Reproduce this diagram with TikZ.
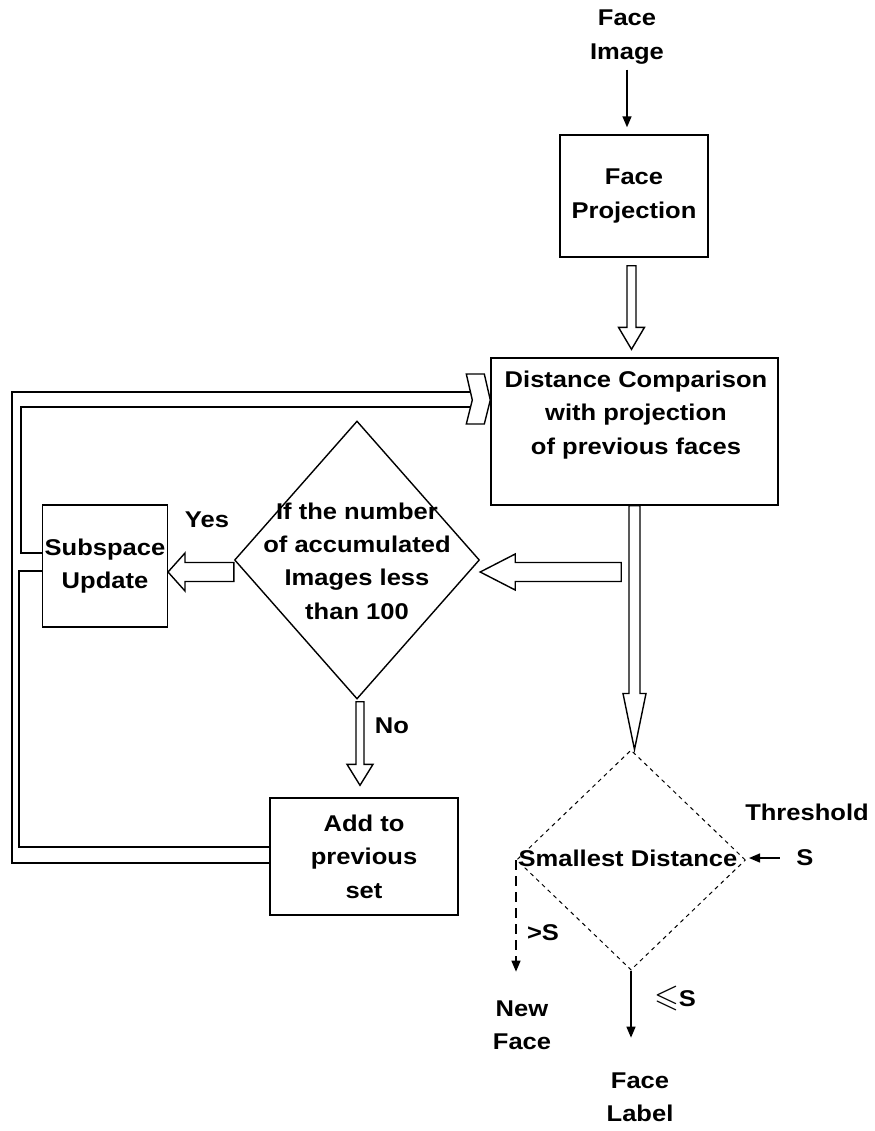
\documentclass[tikz,border=0pt]{standalone}
\usepackage{amssymb}
\usepackage{fontspec}
\setmainfont{Liberation Sans}[FakeStretch=1.12]
\usetikzlibrary{arrows.meta}
\usetikzlibrary{calc}
\usetikzlibrary{shapes.geometric}

% hollow block arrows: start, tip, half shaft, half head, head length
\newcommand{\downblock}[5]{%
  \draw let \p1=#1, \p2=#2 in (\x1-#3,\y1) -- (\x1-#3,\y2+#5) -- (\x1-#4,\y2+#5) -- (\x1,\y2)
    -- (\x1+#4,\y2+#5) -- (\x1+#3,\y2+#5) -- (\x1+#3,\y1) -- cycle;}
\newcommand{\leftblock}[5]{%
  \draw let \p1=#1, \p2=#2 in (\x1,\y1+#3) -- (\x2+#5,\y1+#3) -- (\x2+#5,\y1+#4) -- (\x2,\y1)
    -- (\x2+#5,\y1-#4) -- (\x2+#5,\y1-#3) -- (\x1,\y1-#3) -- cycle;}

\begin{document}
\begin{tikzpicture}[x=0.5pt,y=-0.5pt,line width=0.7pt,>={Triangle[length=5.5pt,width=4.5pt]}]
	\tikzstyle{txt}=[font=\fontsize{11.4}{16.7}\selectfont\bfseries, align=center, inner sep=1pt]
	\tikzstyle{box}=[draw, rectangle, txt]
	\tikzstyle{dec}=[draw, diamond, inner sep=0pt]
	\useasboundingbox (0,0) rectangle (874,1131);

	\node[txt] 	(img) at (627,37) 	{Face\\Image};
	\node[box, minimum width=74pt, minimum height=61pt] 	(proj) at (634,196) 	{Face\\Projection};
	\node[box, minimum width=143.5pt, minimum height=73.5pt] 	(dist) at (634.5,431.5) 	{};
	\node[txt] 	(distlbl) at (636,415) 	{Distance Comparison\\with projection\\of previous faces};
	\node[dec, minimum width=122.5pt, minimum height=139pt] 	(q) at (357,560) 	{};
	\node[txt] 	(qlbl) at (357,561) 	{If the number\\of accumulated\\Images less\\than 100};
	\node[box, minimum width=61pt, minimum height=61pt] 	(sub) at (105,566) 	{Subspace\\Update};
	\node[box, minimum width=94pt, minimum height=58.5pt] 	(add) at (364,856.5) 	{Add to\\previous\\set};
	\node[dec, dash pattern=on 2pt off 2pt, line width=0.5pt, minimum width=114.5pt, minimum height=110pt] 	(sd) at (631,860) 	{};
	\node[txt] 	(sdlbl) at (628,858) 	{Smallest Distance};
	\node[txt] 	(yes) at (207,520) 	{Yes};
	\node[txt] 	(no) at (392,726) 	{No};
	\node[txt] 	(thr) at (807,812) 	{Threshold};
	\node[txt] 	(s) at (805,858) 	{S};
	\node[txt] 	(gt) at (543,933) 	{>S};
	\node[txt] 	(nf) at (522,1025) 	{New\\Face};
	\node[txt] 	(le) at (675,998) 	{{\fontsize{16}{16}\selectfont$\leqslant$}S};
	\node[txt] 	(fl) at (640,1097) 	{Face\\Label};

	\draw[->, shorten <=1.5pt, shorten >=3.5pt] (img) -- (img |- proj.north);
	\downblock{($(proj.south)+(-2.5,8)$)}{($(dist.north)+(0,-8)$)}{2.25pt}{6.5pt}{11pt}
	\downblock{(dist.south)}{(sd.north)}{2.75pt}{5.75pt}{28pt}
	\leftblock{($(q.east)+(141,12)$)}{(q.east)}{4.75pt}{9pt}{17.5pt}
	\leftblock{($(q.west)+(0,12)$)}{(sub.east)}{4.75pt}{9.5pt}{8.5pt}
	\downblock{($(q.south)+(3,2)$)}{($(add.north)+(0,-12)$)}{2pt}{6.5pt}{10.5pt}

	% feedback loop back to the comparison
	\coordinate (ch) at ($(dist.west)+(0,-31.5)$);
	\draw ($(add.west)+(0,6.5)$) -| (12,392) -- (471,392);
	\draw ($(add.west)+(0,-9.5)$) -| ($(sub.west)+(-23,5)$) -- ($(sub.west)+(0,5)$);
	\draw ($(sub.west)+(0,-13)$) -| (21,407) -- (471,407);
	\draw ($(ch)+(-24,-26)$) -- ++(18,0) -- (ch) -- ++(-6,24) -- ++(-18,0) -- ++(6,-24) -- cycle;

	\draw[->, shorten <=7pt, shorten >=1.5pt] (s) -- (s -| sd.east);
	\draw[->, dash pattern=on 5pt off 3pt, shorten >=13pt] (sd.west) -- (sd.west |- nf.north);
	\draw[->, shorten >=16pt] (sd.south) -- (sd.south |- fl.north);
\end{tikzpicture}
\end{document}
